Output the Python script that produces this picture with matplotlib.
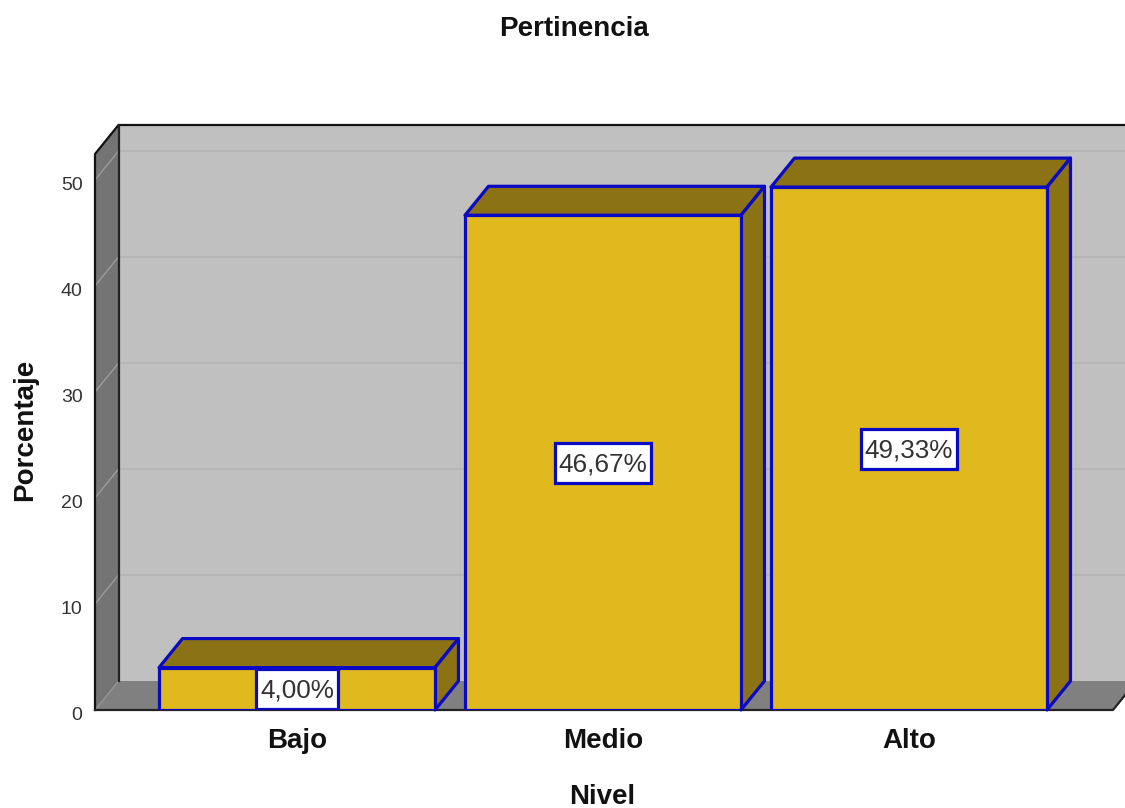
import matplotlib
matplotlib.use("Agg")
import matplotlib.pyplot as plt
from matplotlib.patches import Polygon, Rectangle
from matplotlib.transforms import ScaledTranslation

categories = ["Bajo", "Medio", "Alto"]
values = [4.00, 46.67, 49.33]
value_labels = ["4,00%", "46,67%", "49,33%"]
y_ticks = [0, 10, 20, 30, 40, 50]

plt.rcParams['font.family'] = ['Liberation Sans', 'DejaVu Sans']

W, H = 1125, 808
LEFT, RIGHT, BOTTOM, TOP = 95, 1113, 710, 125
PX_X = 306.0   # pixels per category
PX_Y = 10.6    # pixels per percent
DX = 23.5 / PX_X
DY = 29 / PX_Y
BAR_W = 276 / PX_X

BLUE = "#0a0ac4"
FACE = "#e0b91e"
TOP_C = "#8b7214"
WALL = "#c0c0c0"
SIDE = "#747474"
FLOOR = "#808080"

fig = plt.figure(figsize=(W / 100, H / 100), dpi=100)
ax = fig.add_axes([LEFT / W, 1 - BOTTOM / H, (RIGHT - LEFT) / W, (BOTTOM - TOP) / H])
ax.set_xlim((LEFT - 297) / PX_X, (RIGHT - 297) / PX_X)
ax.set_ylim(0, (BOTTOM - TOP) / PX_Y)
for s in ax.spines.values():
    s.set_visible(False)

x0, x1 = ax.get_xlim()
y1 = ax.get_ylim()[1]
x_back = x0 + DX
x_end = x1 + DX
y_side = y1 - DY


def poly(pts, fc, ec="none", lw=0, z=1):
    ax.add_patch(Polygon(pts, closed=True, facecolor=fc, edgecolor=ec, linewidth=lw,
                         zorder=z, clip_on=False, joinstyle="round"))


# back wall, side wall, floor
poly([(x_back, DY), (x_end, DY), (x_end, y1), (x_back, y1)], WALL)
poly([(x0, 0), (x_back, DY), (x_back, y1), (x0, y_side)], SIDE)
poly([(x0, 0), (x1, 0), (x_end, DY), (x_back, DY)], FLOOR)

# gridlines
for t in y_ticks[1:]:
    ax.plot([x_back, x_end], [t + DY, t + DY], color="#b4b4b4", lw=1.2, zorder=1.5, clip_on=False)
    ax.plot([x0, x_back], [t, t + DY], color="#9c9c9c", lw=1.0, zorder=1.5, clip_on=False)
ax.plot([x0, x_back], [0, DY], color="#949494", lw=1.0, zorder=1.5)

# frame lines
ax.plot([x0, x0, x_back, x_end], [0, y_side, y1, y1], color="#111111", lw=1.6, zorder=2, clip_on=False)
ax.plot([x_back, x_back], [DY, y1], color="#222222", lw=1.6, zorder=2, clip_on=False)
ax.plot([x0, x1, x_end], [0, 0, DY], color="#222222", lw=1.6, zorder=2, clip_on=False)

# bars
xs = list(range(len(categories)))
for i, v in zip(xs, values):
    l, r = i - BAR_W / 2, i + BAR_W / 2
    poly([(l, v), (r, v), (r + DX, v + DY), (l + DX, v + DY)], TOP_C, BLUE, 2.3, z=3)
    poly([(r, 0), (r + DX, DY), (r + DX, v + DY), (r, v)], TOP_C, BLUE, 2.3, z=3)
ax.bar(xs, values, width=BAR_W, color=FACE, edgecolor=BLUE, linewidth=2.3, zorder=4)

# value boxes, width follows the text
box_h = 40 / PX_Y
renderer = fig.canvas.get_renderer()
for i, v, lab in zip(xs, values, value_labels):
    t = ax.text(i, v / 2 + 1 / PX_Y, lab, ha="center", va="center_baseline", fontsize=18.8,
                color="#333333", zorder=6)
    box_w = (t.get_window_extent(renderer).width + 8) / PX_X
    ax.add_patch(Rectangle((i - box_w / 2, v / 2 - box_h / 2), box_w, box_h, facecolor="white",
                           edgecolor=BLUE, linewidth=2.3, zorder=5))

ax.set_yticks(y_ticks)
ax.set_xticks(xs)
ax.set_xticklabels(categories, fontsize=20, fontweight="bold", color="#111111")
ax.tick_params(axis="y", length=0, pad=9, labelsize=14, labelcolor="#333333")
ax.tick_params(axis="x", length=0, pad=13)

# y labels sit a little below their gridlines
shift = ScaledTranslation(0, -3.5 / 100, fig.dpi_scale_trans)
for lab in ax.get_yticklabels():
    lab.set_transform(lab.get_transform() + shift)

fig.text(574 / W, 1 - 29 / H, "Pertinencia", ha="center", va="center", fontsize=20, fontweight="bold", color="#111111")
fig.text(602 / W, 1 - 797 / H, "Nivel", ha="center", va="center", fontsize=20, fontweight="bold", color="#111111")
fig.text(25 / W, 1 - 430 / H, "Porcentaje", ha="center", va="center", rotation=90, fontsize=20, fontweight="bold", color="#111111")

fig.savefig("out.png", dpi=100, facecolor="white")
